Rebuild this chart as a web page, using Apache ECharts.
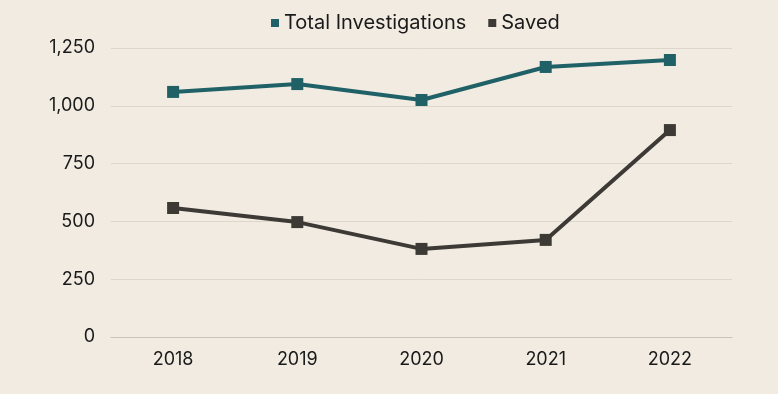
<!DOCTYPE html>
<html><head><meta charset="utf-8">
<script src="https://cdn.jsdelivr.net/npm/echarts@6/dist/echarts.min.js"></script>
<style>html,body{margin:0;padding:0;background:#f1ebe2;}#c{width:778px;height:394px;}</style>
</head><body><div id="c"></div>
<script>
const categories = ['2018','2019','2020','2021','2022'];
const totalInvestigations = [1060, 1094, 1025, 1168, 1198];
const saved = [558, 497, 381, 420, 895];
const yTicks = [0, 250, 500, 750, 1000, 1250];

const chart = echarts.init(document.getElementById('c'));
const font = 'Inter, "Noto Sans", sans-serif';
chart.setOption({
  backgroundColor: '#f1ebe2',
  animation: false,
  textStyle: {fontFamily: font},
  legend: {
    top: 8, left: 266, itemWidth: 8, itemHeight: 8, itemGap: 22,
    icon: 'rect',
    textStyle: {fontSize: 20, color: '#1a1a1a', fontFamily: font},
    data: ['Total Investigations', 'Saved']
  },
  grid: {left: 111, right: 46, top: 48, bottom: 57},
  xAxis: {
    type: 'category', data: categories, boundaryGap: true,
    axisLine: {show: true, lineStyle: {color: '#c9c4ba', width: 1}},
    axisTick: {show: false},
    axisLabel: {fontSize: 18, color: '#1a1a1a', margin: 14, fontFamily: font}
  },
  yAxis: {
    type: 'value', min: yTicks[0], max: yTicks[yTicks.length-1], interval: 250,
    axisLine: {show: false}, axisTick: {show: false},
    axisLabel: {fontSize: 18, color: '#1a1a1a', margin: 16, fontFamily: font,
      formatter: v => v.toLocaleString('en-US')},
    splitLine: {lineStyle: {color: '#dcd6cc', width: 1}}
  },
  series: [
    {name: 'Total Investigations', type: 'line', data: totalInvestigations,
     symbol: 'rect', symbolSize: 12, color: '#1f6166',
     lineStyle: {width: 4, color: '#1f6166'}, itemStyle: {color: '#1f6166'}},
    {name: 'Saved', type: 'line', data: saved,
     symbol: 'rect', symbolSize: 12, color: '#3d3935',
     lineStyle: {width: 4, color: '#3d3935'}, itemStyle: {color: '#3d3935'}}
  ]
});
</script></body></html>
